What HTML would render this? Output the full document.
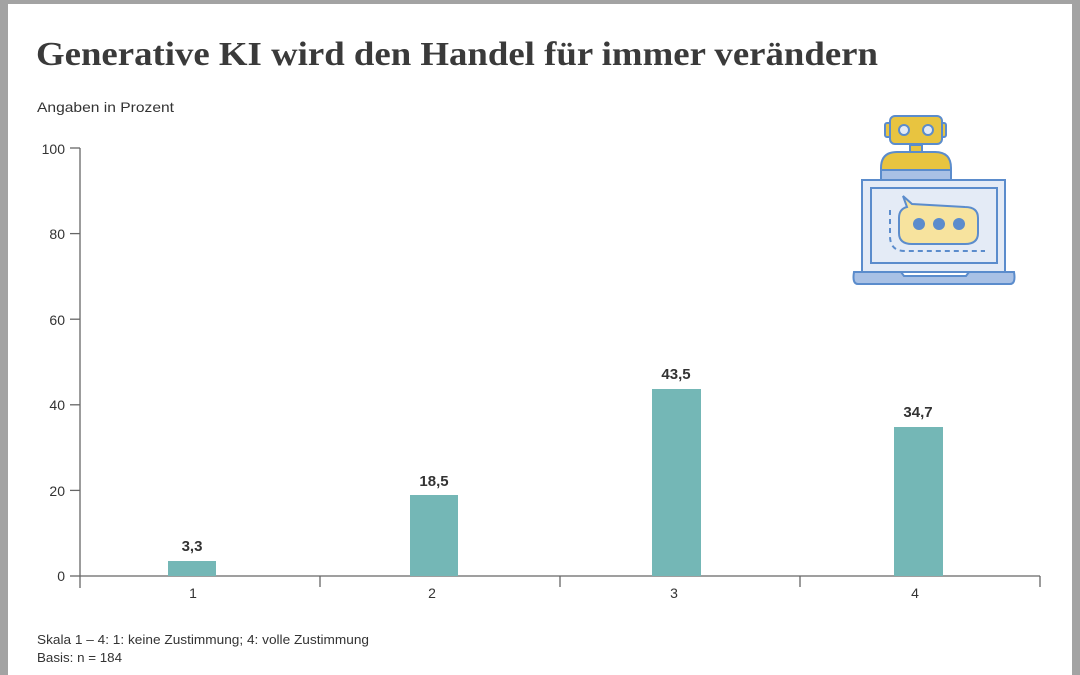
<!DOCTYPE html>
<html><head><meta charset="utf-8"><style>
html,body{margin:0;padding:0;width:1080px;height:675px;overflow:hidden;background:#a3a3a3}
svg{display:block}
</style></head><body>
<svg width="1080" height="675" viewBox="0 0 1080 675" xmlns="http://www.w3.org/2000/svg">
<rect x="0" y="0" width="1080" height="675" fill="#a3a3a3"/>
<rect x="8" y="4" width="1064" height="671" fill="#fff"/>
<text x="36" y="65" font-family="Liberation Serif, serif" font-weight="bold" font-size="34" fill="#3a3a3a" textLength="842" lengthAdjust="spacingAndGlyphs">Generative KI wird den Handel für immer verändern</text>
<text x="37" y="112" font-family="Liberation Sans, sans-serif" font-size="14" fill="#333" textLength="137" lengthAdjust="spacingAndGlyphs">Angaben in Prozent</text>
<g font-family="Liberation Sans, sans-serif" font-size="14" fill="#333" text-anchor="end">
<text x="65" y="154">100</text><text x="65" y="239">80</text><text x="65" y="325">60</text><text x="65" y="410">40</text><text x="65" y="496">20</text><text x="65" y="581">0</text>
</g>
<g stroke="#666" stroke-width="1.3">
<line x1="80" y1="148" x2="80" y2="588"/>
<line x1="70" y1="148" x2="80" y2="148"/><line x1="70" y1="233.6" x2="80" y2="233.6"/><line x1="70" y1="319.2" x2="80" y2="319.2"/><line x1="70" y1="404.8" x2="80" y2="404.8"/><line x1="70" y1="490.4" x2="80" y2="490.4"/><line x1="70" y1="576" x2="80" y2="576"/>
<line x1="80" y1="576" x2="1040" y2="576"/>
<line x1="320" y1="576" x2="320" y2="587"/><line x1="560" y1="576" x2="560" y2="587"/><line x1="800" y1="576" x2="800" y2="587"/><line x1="1040" y1="576" x2="1040" y2="587"/>
</g>
<g fill="#74b7b6">
<rect x="168" y="561" width="48" height="15"/>
<rect x="410" y="495" width="48" height="81"/>
<rect x="652" y="389" width="49" height="187"/>
<rect x="894" y="427" width="49" height="149"/>
</g>
<g font-family="Liberation Sans, sans-serif" font-size="15" font-weight="bold" fill="#333" text-anchor="middle">
<text x="192" y="551">3,3</text><text x="434" y="486">18,5</text><text x="676" y="379">43,5</text><text x="918" y="417">34,7</text>
</g>
<g font-family="Liberation Sans, sans-serif" font-size="14" fill="#333" text-anchor="middle">
<text x="193" y="598">1</text><text x="432" y="598">2</text><text x="674" y="598">3</text><text x="915" y="598">4</text>
</g>
<g font-family="Liberation Sans, sans-serif" font-size="13" fill="#333">
<text x="37" y="644" textLength="332" lengthAdjust="spacingAndGlyphs">Skala 1 – 4: 1: keine Zustimmung; 4: volle Zustimmung</text>
<text x="37" y="662" textLength="85" lengthAdjust="spacingAndGlyphs">Basis: n = 184</text>
</g>
<g stroke="#5b8ccc" stroke-width="2">
<rect x="885" y="123" width="6" height="14" rx="2" fill="#e8c440"/>
<rect x="940" y="123" width="6" height="14" rx="2" fill="#e8c440"/>
<rect x="890" y="116" width="52" height="28" rx="5" fill="#e8c440"/>
<circle cx="904" cy="130" r="5" fill="#e4ebf6"/><circle cx="928" cy="130" r="5" fill="#e4ebf6"/>
<rect x="910" y="145" width="12" height="7" fill="#e8c440"/>
<path d="M881 180 L881 168 Q881 152 897 152 L935 152 Q951 152 951 168 L951 180 Z" fill="#e8c440"/>
<rect x="881" y="170" width="70" height="10" fill="#a9c1e5"/>
<rect x="862" y="180" width="143" height="92" fill="#e4ebf6"/>
<rect x="871" y="188" width="126" height="75" fill="#e4ebf6"/>
<path d="M854 272 L901 272 L904 276 L966 276 L969 272 L1014 272 Q1016 284 1010 284 L858 284 Q852 284 854 272 Z" fill="#a9c1e5"/>
<path d="M903 196 L912 204 L965 207 Q978 207 978 218 L978 233 Q978 244 965 244 L912 244 Q899 244 899 233 L899 218 Q899 209 907 207 Z" fill="#f7e39e"/>
<path d="M890 210 L890 236 Q890 251 905 251 L985 251" fill="none" stroke-dasharray="5 4"/>
</g>
<g fill="#5b8ccc"><circle cx="919" cy="224" r="6"/><circle cx="939" cy="224" r="6"/><circle cx="959" cy="224" r="6"/></g>
</svg>
</body></html>
